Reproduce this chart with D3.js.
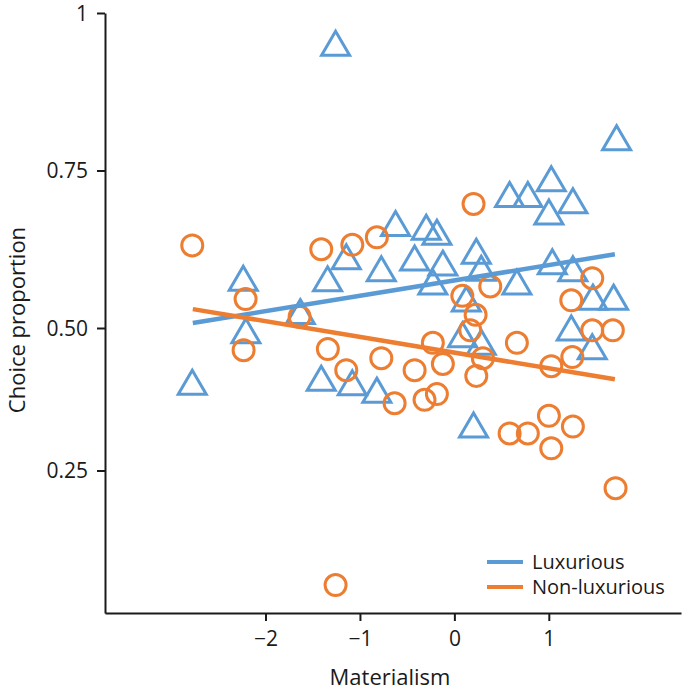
<!DOCTYPE html>
<html>
<head>
<meta charset="utf-8">
<script src="https://cdn.jsdelivr.net/npm/d3@7"></script>
<style>
  body { margin: 0; background: #fff; }
  text { font-family: "Open Sans", sans-serif; fill: #1a1a1a; }
</style>
</head>
<body>
<div id="chart"></div>
<script>
var svgWidth = 685;
var svgHeight = 690;

// luxurious (triangles)
var luxX = [-2.236, -2.208, -2.776, -1.632, -1.343, -1.145, -0.774, -0.623, -0.421, -1.410, -1.081, -0.821,
  -1.258, 1.718, 0.585, 0.778, 1.026, 1.255, 1.001, -0.298, -0.185, -0.122, 0.232, 0.285, -0.228, 0.662,
  1.037, 1.255, 1.467, 1.686, 0.126, 1.238, 1.460, 0.285, 0.087, 0.203];
var luxY = [0.579, 0.495, 0.405, 0.526, 0.578, 0.613, 0.594, 0.666, 0.611, 0.412, 0.404, 0.391,
  0.952, 0.802, 0.712, 0.712, 0.737, 0.702, 0.684, 0.660, 0.652, 0.603, 0.622, 0.595, 0.573, 0.573,
  0.605, 0.594, 0.549, 0.549, 0.546, 0.500, 0.467, 0.475, 0.488, 0.330];

// non-luxurious (circles)
var nonX = [-2.776, -2.211, -2.232, -1.639, -1.410, -1.081, -0.821, -1.340, -1.145, -0.774, -0.633, -0.421,
  0.203, 1.460, 1.238, 0.380, 0.084, 0.225, 0.168, -0.228, 0.662, 1.460, 1.678, -0.122, 0.302, 0.232,
  1.026, 1.249, -0.185, -0.316, 0.585, 0.778, 1.001, 1.255, 1.026, 1.707, -1.258];
var nonY = [0.631, 0.546, 0.461, 0.518, 0.625, 0.632, 0.644, 0.463, 0.426, 0.447, 0.368, 0.426,
  0.697, 0.579, 0.544, 0.566, 0.551, 0.521, 0.496, 0.474, 0.474, 0.496, 0.496, 0.437, 0.447, 0.416,
  0.433, 0.449, 0.384, 0.374, 0.315, 0.315, 0.346, 0.327, 0.289, 0.219, 0.049];

// fitted lines
var fitX = [-2.77, 1.70];
var luxFitY = [0.508, 0.617];
var nonFitY = [0.530, 0.410];

var xTicks = [-2, -1, 0, 1];
var yTicks = [0.25, 0.5, 0.75, 1];
var yTickLabels = ["0.25", "0.50", "0.75", "1"];

var blue = "#5b9bd5";
var orange = "#ed7d31";

var svg = d3.select("#chart")
    .append("svg")
    .attr("width", svgWidth)
    .attr("height", svgHeight);

var x = d3.scaleLinear()
    .domain([-3.70, 2.40])
    .range([105, 681]);

// the published axis is not evenly spaced below 0.5
var y = d3.scaleLinear()
    .domain([0, 0.5, 1])
    .range([613, 328, 13]);

var xAxis = svg.append("g")
    .attr("transform", "translate(0,613)")
    .call(d3.axisBottom(x).tickValues(xTicks).tickSize(8).tickSizeOuter(0).tickPadding(10)
      .tickFormat(d3.format("d")));

var yAxis = svg.append("g")
    .attr("transform", "translate(105,0)")
    .call(d3.axisLeft(y).tickValues(yTicks).tickSize(8).tickSizeOuter(0).tickPadding(9)
      .tickFormat((d, i) => yTickLabels[i]));

svg.selectAll(".domain, .tick line")
    .attr("stroke", "#1a1a1a")
    .attr("stroke-width", 2);
svg.selectAll(".tick text")
    .style("font-size", "21px")
    .style("font-family", "'Open Sans', sans-serif")
    .attr("fill", "#1a1a1a");
yAxis.selectAll(".tick text").attr("dy", "0.35em");

var luxData = luxX.map((d, i) => ({x: d, y: luxY[i]}));
var nonData = nonX.map((d, i) => ({x: d, y: nonY[i]}));

svg.append("g").selectAll("path")
    .data(luxData)
    .enter()
    .append("path")
    .attr("d", "M0,-12L14,12L-14,12Z")
    .attr("transform", d => `translate(${x(d.x)},${y(d.y)})`)
    .attr("fill", "none")
    .attr("stroke", blue)
    .attr("stroke-width", 3);

svg.append("g").selectAll("circle")
    .data(nonData)
    .enter()
    .append("circle")
    .attr("cx", d => x(d.x))
    .attr("cy", d => y(d.y))
    .attr("r", 10.5)
    .attr("fill", "none")
    .attr("stroke", orange)
    .attr("stroke-width", 3);

var line = d3.line().x(d => x(d[0])).y(d => y(d[1]));

svg.append("path")
    .attr("d", line(fitX.map((d, i) => [d, luxFitY[i]])))
    .attr("stroke", blue)
    .attr("stroke-width", 4.5)
    .attr("fill", "none");

svg.append("path")
    .attr("d", line(fitX.map((d, i) => [d, nonFitY[i]])))
    .attr("stroke", orange)
    .attr("stroke-width", 4.5)
    .attr("fill", "none");

// legend
var legend = svg.append("g").attr("transform", "translate(487,562)");
[["Luxurious", blue], ["Non-luxurious", orange]].forEach(function(item, i) {
    legend.append("line")
        .attr("x1", 0).attr("x2", 36)
        .attr("y1", i * 25).attr("y2", i * 25)
        .attr("stroke", item[1])
        .attr("stroke-width", 4);
    legend.append("text")
        .attr("x", 45)
        .attr("y", i * 25)
        .attr("dy", "0.35em")
        .style("font-size", "20px")
        .text(item[0]);
});

svg.append("text")
    .attr("x", 390)
    .attr("y", 685)
    .attr("text-anchor", "middle")
    .style("font-size", "22px")
    .text("Materialism");

svg.append("text")
    .attr("transform", "translate(25,320) rotate(-90)")
    .attr("text-anchor", "middle")
    .style("font-size", "22px")
    .text("Choice proportion");
</script>
</body>
</html>
